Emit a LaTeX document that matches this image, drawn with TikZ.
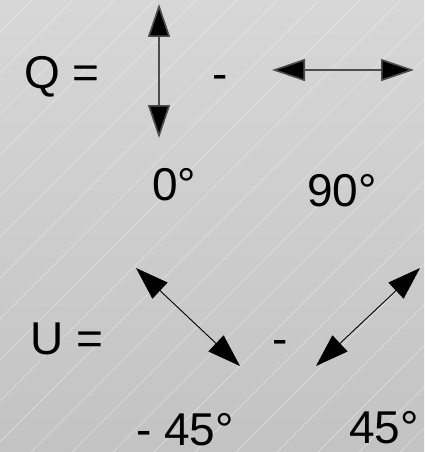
\documentclass[tikz,border=0pt]{standalone}
\usepackage{fontspec}
\setmainfont{Liberation Sans}
\usetikzlibrary{arrows.meta}
\definecolor{bgtop}{HTML}{D7D7D7}
\definecolor{bgbot}{HTML}{C3C3C3}
\definecolor{axisgray}{HTML}{4D4D4D}
\begin{document}
\begin{tikzpicture}[x=1pt,y=-1pt,
  >={Triangle[length=33pt,width=22pt]},
  lbl/.style={inner sep=0pt,anchor=base west,font=\fontsize{46}{50}\selectfont},
  polq/.style={draw=axisgray,line width=1.6pt,<->,arrows={[fill=black]}},
  polu/.style={draw=black,line width=0.9pt,<->}]
\useasboundingbox (0,0) rectangle (424,452);
\shade[top color=bgtop,bottom color=bgbot] (0,0) rectangle (424,452);
\begin{scope}
\clip (0,0) rectangle (424,452);
\foreach \k in {0,...,21}{
  \pgfmathsetmacro{\c}{32+41*\k}
  \draw[white,opacity=0.45,line width=0.5pt] (\c,0) -- (0,\c);
}
\end{scope}
% labels
\node[lbl] (qeq) at (24,88) {Q =};
\node[lbl] (qminus) at (212,89) {-};
\node[lbl] (zero) at (152,200) {0°};
\node[lbl] (ninety) at (307,206) {90°};
\node[lbl] (ueq) at (30,354) {U =};
\node[lbl] (uminus) at (272,354) {-};
\node[lbl] (mfortyfive) at (136,445) {- 45°};
\node[lbl] (fortyfive) at (349,443) {45°};
% arrow ends
\coordinate (v1) at (159,4);
\coordinate (v2) at (159,138);
\coordinate (h1) at (272,70);
\coordinate (h2) at (414,70);
\coordinate (d1) at (136,268);
\coordinate (d2) at (240,366);
\coordinate (e1) at (316,366);
\coordinate (e2) at (420,268);
\draw[polq] (v1) -- (v2);
\draw[polq] (h1) -- (h2);
\draw[polu] (d1) -- (d2);
\draw[polu] (e1) -- (e2);
\end{tikzpicture}
\end{document}
